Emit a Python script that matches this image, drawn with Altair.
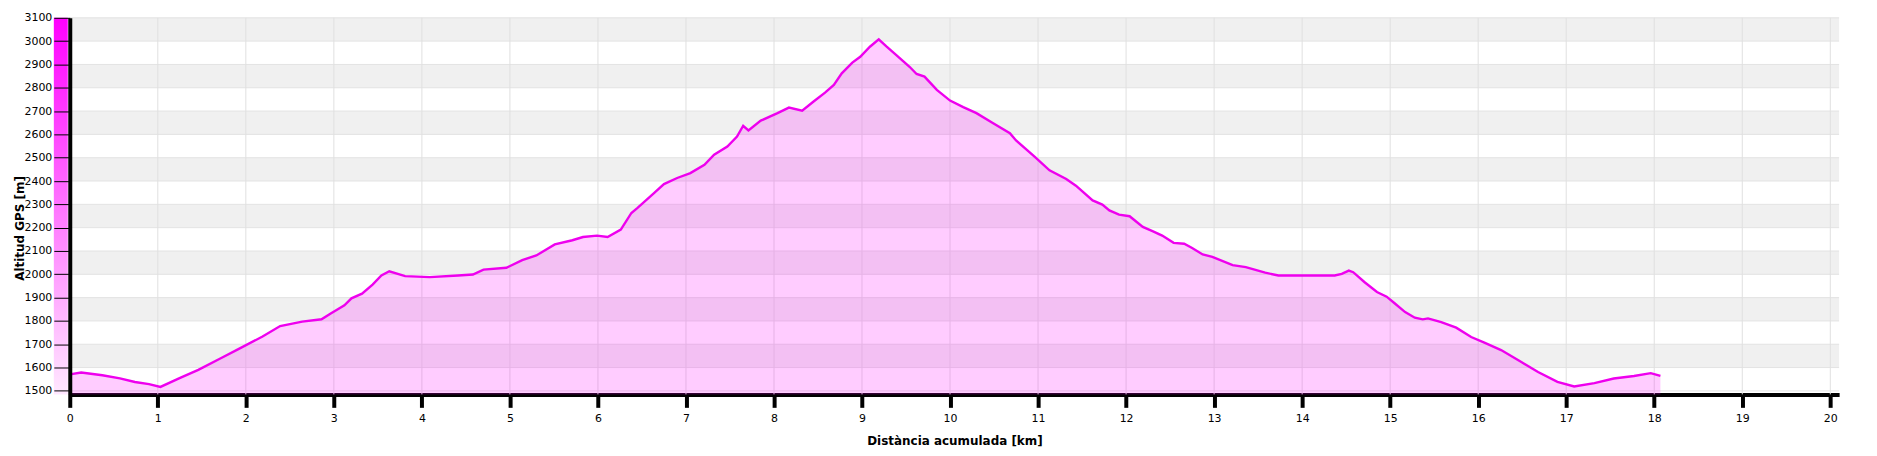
import altair as alt
import pandas as pd

dist_km = [0.0, 0.13, 0.37, 0.57, 0.74, 0.90, 1.03, 1.26, 1.46, 1.71, 1.91, 2.19, 2.39, 2.64,
           2.86, 2.96, 3.12, 3.20, 3.32, 3.44, 3.54, 3.63, 3.81, 4.09, 4.41, 4.58, 4.70, 4.96,
           5.14, 5.30, 5.51, 5.71, 5.83, 5.99, 6.11, 6.26, 6.38, 6.45, 6.64, 6.75, 6.90, 7.05,
           7.21, 7.32, 7.47, 7.58, 7.65, 7.71, 7.85, 8.04, 8.17, 8.32, 8.45, 8.58, 8.68, 8.77,
           8.89, 8.98, 9.09, 9.19, 9.28, 9.39, 9.54, 9.62, 9.71, 9.85, 10.0, 10.15, 10.30,
           10.49, 10.68, 10.75, 10.96, 11.13, 11.32, 11.43, 11.62, 11.73, 11.81, 11.92, 12.04,
           12.19, 12.30, 12.41, 12.54, 12.66, 12.75, 12.87, 12.98, 13.21, 13.36, 13.58, 13.73,
           14.0, 14.37, 14.45, 14.53, 14.58, 14.71, 14.85, 14.96, 15.05, 15.17, 15.28, 15.37,
           15.43, 15.58, 15.75, 15.92, 16.07, 16.26, 16.49, 16.68, 16.90, 17.09, 17.32, 17.54,
           17.77, 17.96, 18.07]
alt_m = [1571, 1579, 1567, 1554, 1538, 1529, 1517, 1557, 1590, 1639, 1678, 1733, 1778, 1797,
         1807, 1831, 1867, 1897, 1917, 1956, 1995, 2013, 1992, 1988, 1995, 1999, 2020, 2028,
         2061, 2081, 2128, 2146, 2160, 2166, 2160, 2192, 2263, 2285, 2349, 2387, 2413, 2434,
         2470, 2513, 2548, 2591, 2637, 2617, 2659, 2691, 2715, 2702, 2741, 2779, 2812, 2862,
         2908, 2933, 2976, 3008, 2976, 2940, 2890, 2859, 2848, 2791, 2745, 2717, 2691,
         2648, 2605, 2574, 2505, 2446, 2409, 2380, 2317, 2299, 2274, 2256, 2249,
         2203, 2185, 2166, 2135, 2131, 2113, 2085, 2075, 2039, 2031, 2007, 1995,
         1995, 1995, 2002, 2016, 2009, 1966, 1924, 1904, 1876, 1838, 1814, 1807,
         1811, 1795, 1771, 1731, 1707, 1675, 1624, 1581, 1539, 1519, 1533, 1553,
         1564, 1576, 1564]

x_ticks = list(range(0, 21))
y_ticks = list(range(1500, 3101, 100))
band_lo = [1600, 1800, 2000, 2200, 2400, 2600, 2800, 3000]
band_hi = [1700, 1900, 2100, 2300, 2500, 2700, 2900, 3100]

x_domain = [0, 20.1]
y_domain = [1485, 3100]

profile = pd.DataFrame({"km": dist_km, "alt": alt_m, "base": [y_domain[0]] * len(alt_m)})
bands = pd.DataFrame({"lo": band_lo, "hi": band_hi,
                      "x0": [x_domain[0]] * len(band_lo), "x1": [x_domain[1]] * len(band_lo)})
xgrid = pd.DataFrame({"km": x_ticks})
ygrid = pd.DataFrame({"m": y_ticks})
bar_df = pd.DataFrame({"top": [y_domain[1]], "bottom": [y_domain[0]]})

FONT = "DejaVu Sans"
xs = alt.Scale(domain=x_domain, nice=False, zero=False)
ys = alt.Scale(domain=y_domain, nice=False, zero=False)

x_axis = alt.Axis(
    values=x_ticks, title="Distància acumulada [km]", grid=False, format="d",
    domainColor="#000000", domainWidth=4, tickColor="#000000", tickWidth=4, tickSize=13,
    labelFont=FONT, labelFontSize=11, labelColor="#000000", labelPadding=5,
    labelFlush=False, labelOverlap=False,
    titleFont=FONT, titleFontSize=12, titleFontWeight="bold", titleColor="#000000",
    titlePadding=12,
)
y_axis = alt.Axis(
    values=y_ticks, title="Altitud GPS [m]", grid=False, format="d",
    domainColor="#000000", domainWidth=4, tickColor="#000000", tickWidth=1, tickSize=16,
    labelFont=FONT, labelFontSize=11, labelColor="#000000", labelPadding=2,
    labelFlush=False, labelOverlap=False,
    titleFont=FONT, titleFontSize=12, titleFontWeight="bold", titleColor="#000000",
    titleX=-50, titleY=211, titleAlign="center", titleBaseline="middle", titleAngle=270,
    zindex=1,
)

band_layer = alt.Chart(bands).mark_rect(color="#f0f0f0").encode(
    x=alt.X("x0:Q", scale=xs, axis=x_axis), x2="x1:Q",
    y=alt.Y("lo:Q", scale=ys, axis=y_axis), y2="hi:Q",
)
hgrid = alt.Chart(ygrid).mark_rule(color="#e3e3e3", strokeWidth=1).encode(
    y=alt.Y("m:Q", scale=ys, axis=y_axis)
)
vgrid = alt.Chart(xgrid).mark_rule(color="#e0e0e0", strokeWidth=1).encode(
    x=alt.X("km:Q", scale=xs, axis=x_axis)
)
grad_bar = alt.Chart(bar_df).mark_rect(
    fill=alt.LinearGradient(
        gradient="linear",
        stops=[alt.GradientStop(offset=0, color="#ff00ff"),
               alt.GradientStop(offset=1, color="#ffe8ff")],
        x1=0, x2=0, y1=0, y2=1,
    )
).encode(
    x=alt.value(-16), x2=alt.value(-2),
    y=alt.Y("top:Q", scale=ys, axis=y_axis), y2="bottom:Q",
)
area = alt.Chart(profile).mark_area(color="#ff00ff", fillOpacity=0.2).encode(
    x=alt.X("km:Q", scale=xs, axis=x_axis),
    y=alt.Y("alt:Q", scale=ys, axis=y_axis),
    y2="base:Q",
)
line = alt.Chart(profile).mark_line(color="#ee00ee", strokeWidth=2.4).encode(
    x=alt.X("km:Q", scale=xs, axis=x_axis),
    y=alt.Y("alt:Q", scale=ys, axis=y_axis),
)

chart = alt.layer(band_layer, hgrid, vgrid, grad_bar, area, line).properties(
    width=1776, height=378,
    autosize=alt.AutoSizeParams(type="none"),
    padding={"left": 62, "top": 9, "right": 30, "bottom": 60},
).configure_view(strokeWidth=0)

chart.save("out.html", embed_options={"renderer": "svg", "actions": False})
